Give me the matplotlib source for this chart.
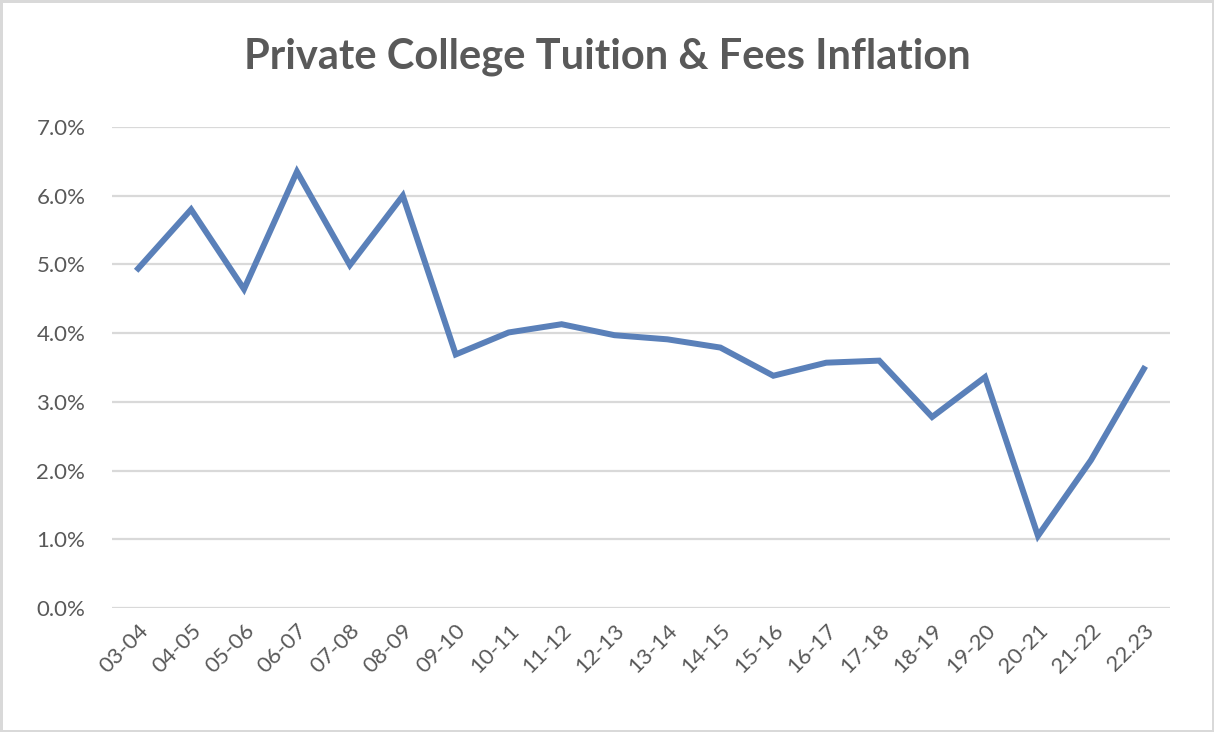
import numpy as np
import matplotlib
matplotlib.use("Agg")
import matplotlib.pyplot as plt
from matplotlib.ticker import FuncFormatter

years = ['03-04', '04-05', '05-06', '06-07', '07-08', '08-09', '09-10', '10-11',
         '11-12', '12-13', '13-14', '14-15', '15-16', '16-17', '17-18', '18-19',
         '19-20', '20-21', '21-22', '22.23']
inflation = [4.94, 5.80, 4.64, 6.35, 4.99, 6.00, 3.69, 4.01, 4.13, 3.97,
             3.91, 3.79, 3.38, 3.57, 3.60, 2.78, 3.36, 1.05, 2.15, 3.48]

plt.rcParams['font.family'] = ['Lato', 'DejaVu Sans']
grey = '#595959'

fig = plt.figure(figsize=(12.14, 7.32), dpi=100)
fig.patch.set_edgecolor('#D9D9D9')
fig.patch.set_linewidth(2.5)
ax = fig.add_axes([0.092, 0.1694, 0.872, 0.6571])

x = np.arange(len(years))
ax.plot(x, inflation, color='#5A80B9', lw=4.3, solid_joinstyle='miter', zorder=3)

ax.set_xlim(-0.5, len(years) - 0.5)
ax.set_ylim(0, 7)
ax.set_yticks(np.arange(0, 8, 1))
ax.yaxis.set_major_formatter(FuncFormatter(lambda v, p: f'{v:.1f}%'))
ax.set_xticks(x)
ax.set_xticklabels(years, rotation=45, ha='right', rotation_mode='anchor')
ax.tick_params(axis='both', length=0, labelsize=16, labelcolor=grey)
ax.tick_params(axis='y', pad=19)
ax.tick_params(axis='x', pad=9)
ax.grid(axis='y', color='#D9D9D9', lw=1.6)
ax.set_axisbelow(True)
for s in ax.spines.values():
    s.set_visible(False)

fig.text(0.5, 0.922, 'Private College Tuition & Fees Inflation', ha='center', va='center',
         fontsize=30, fontweight='bold', color=grey)

fig.savefig('out.png', dpi=100)
